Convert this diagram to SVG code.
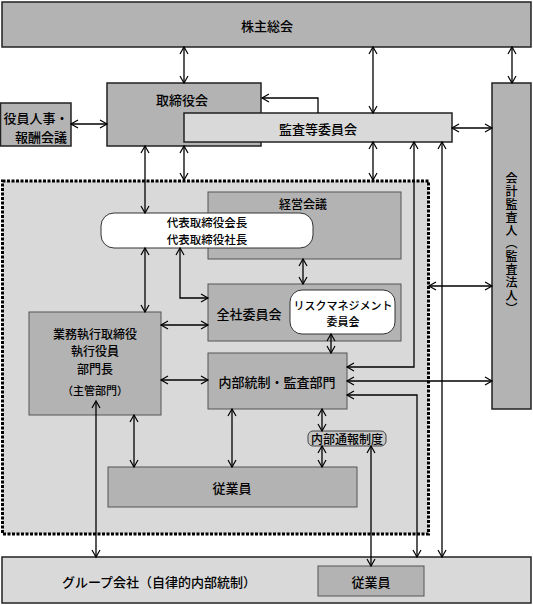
<svg xmlns="http://www.w3.org/2000/svg" width="533" height="605" viewBox="0 0 533 605">
<style>
text{font-family:"Noto Sans CJK JP","Noto Sans",sans-serif;font-size:13px;font-weight:500;fill:#000;text-anchor:middle;dominant-baseline:central}
.mid{fill:#b3b3b3;stroke:#222;stroke-width:1.5}
.lite{fill:#d9d9d9;stroke:#222;stroke-width:1.5}
.inner{fill:#b3b3b3;stroke:#555;stroke-width:1}
.cap{fill:#fff;stroke:#333;stroke-width:1}
.c{fill:none;stroke:#000;stroke-width:1.3;marker-start:url(#a);marker-end:url(#a)}
.e{fill:none;stroke:#000;stroke-width:1.3;marker-end:url(#a)}
.sm{font-size:11.5px}
.g{font-size:12px}
.vt{writing-mode:vertical-rl;dominant-baseline:auto;font-size:12px;letter-spacing:1px}
</style>
<defs>
<marker id="a" viewBox="-8 -5 10 10" refX="0" refY="0" markerWidth="10" markerHeight="10" markerUnits="userSpaceOnUse" orient="auto-start-reverse">
<path d="M-7,-4 L0,0 L-7,4" fill="none" stroke="#000" stroke-width="1.2"/>
</marker>
</defs>
<rect x="0" y="0" width="533" height="605" fill="#fff"/>
<g id="region"><rect x="2.5" y="181" width="426" height="353" fill="#d9d9d9" stroke="#000" stroke-width="3" stroke-dasharray="3 1.5"/></g>
<g id="kabunushi"><rect class="mid" x="2" y="2" width="529" height="45" stroke-width="2"/><text x="267" y="25">株主総会</text></g>
<g id="torishimariyakukai"><rect class="mid" x="107" y="83" width="154" height="63"/><text x="182" y="99">取締役会</text></g>
<g id="kansa"><rect class="lite" x="184" y="113" width="268" height="29"/><text x="318" y="128">監査等委員会</text></g>
<g id="yakuin"><rect class="mid" x="0.5" y="103" width="70.5" height="43" stroke="#666"/><text x="36" y="117">役員人事・</text><text x="41" y="136">報酬会議</text></g>
<g id="kaikei"><rect class="mid" x="492" y="83" width="39" height="326"/><text class="vt" x="511.5" y="244">会計監査人（監査法人）</text></g>
<g id="keiei"><rect class="inner" x="208" y="192" width="193" height="67"/><text x="303" y="203" class="g">経営会議</text></g>
<g id="daihyo"><rect class="cap" x="101" y="213" width="212" height="35" rx="13"/><text x="207" y="222" class="sm">代表取締役会長</text><text x="207" y="238.5" class="sm">代表取締役社長</text></g>
<g id="zensha"><rect class="inner" x="208" y="284" width="193" height="57"/><text x="249" y="313">全社委員会</text></g>
<g id="risk"><rect class="cap" x="290" y="290" width="105" height="44" rx="12"/><text x="343" y="305" style="font-size:11px">リスクマネジメント</text><text x="343" y="321" style="font-size:11px">委員会</text></g>
<g id="gyomu"><rect class="inner" x="29" y="312" width="132" height="103"/><text x="95" y="333" class="g">業務執行取締役</text><text x="95" y="350.5" class="g">執行役員</text><text x="95" y="368" class="g">部門長</text><text x="95" y="390" style="font-size:11px">（主管部門）</text></g>
<g id="naibu"><rect class="inner" x="208" y="353" width="139" height="56"/><text x="277" y="381">内部統制・監査部門</text></g>
<g id="tsuho"><rect x="308" y="431" width="78" height="15" rx="5" fill="#c6c6c6" stroke="#444" stroke-width="1"/><text x="347" y="438.5" class="g">内部通報制度</text></g>
<g id="jugyoin"><rect class="inner" x="108" y="467" width="249" height="40"/><text x="232" y="487">従業員</text></g>
<g id="group"><rect class="lite" x="2" y="557" width="529" height="46" stroke="#555" stroke-width="1"/><text x="159" y="581">グループ会社（自律的内部統制）</text></g>
<g id="jugyoin2"><rect class="inner" x="318" y="566" width="106" height="30"/><text x="371" y="581">従業員</text></g>
<g id="connectors">
<path class="c" d="M184,47V83"/>
<path class="c" d="M373,47V113"/>
<path class="c" d="M512,47V83"/>
<path class="c" d="M71,124H107"/>
<path class="e" d="M318,113V98H262"/>
<path class="c" d="M452,128H492"/>
<path class="c" d="M145,146V213"/>
<path class="c" d="M184,146V180"/>
<path class="c" d="M373,142V180"/>
<path class="c" d="M414,142V367H347"/>
<path class="c" d="M442,142V557"/>
<path class="c" d="M347,395H417V557"/>
<path class="c" d="M347,381H492"/>
<path class="c" d="M429,286H492"/>
<path class="c" d="M145,248V312"/>
<path class="c" d="M180,248V298H208"/>
<path class="c" d="M303,259V284"/>
<path class="c" d="M331,334V353"/>
<path class="c" d="M161,325H208"/>
<path class="c" d="M161,380H208"/>
<path class="c" d="M96,401V557"/>
<path class="c" d="M134,415V467"/>
<path class="c" d="M232,409V467"/>
<path class="c" d="M322,409V431"/>
<path class="c" d="M322,446V467"/>
<path class="c" d="M371,446V566"/>
</g>
</svg>
